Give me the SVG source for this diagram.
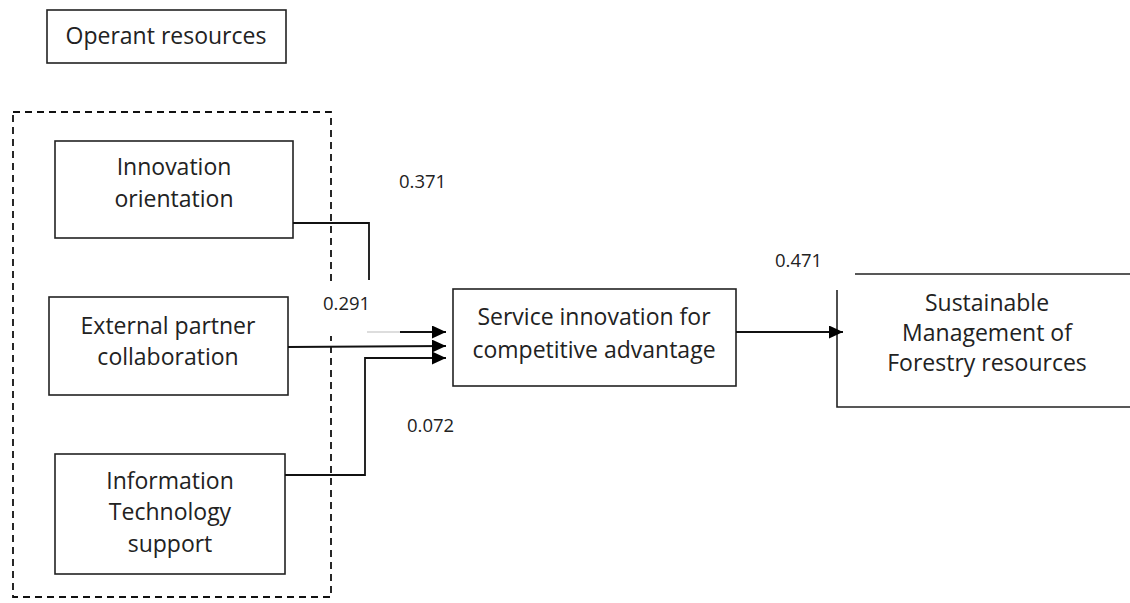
<svg xmlns="http://www.w3.org/2000/svg" width="1130" height="603" viewBox="0 0 1130 603">
<defs>
<style>
.box{fill:#fff;stroke:#222;stroke-width:1.6}
.t{font-family:"Open Sans","Liberation Sans",sans-serif;font-size:23px;fill:#222;text-anchor:middle}
.n{font-family:"Open Sans","Liberation Sans",sans-serif;font-size:18.5px;fill:#222}
.ln{fill:none;stroke:#111;stroke-width:1.8}
</style>
<marker id="ah" viewBox="0 0 14 13" refX="14" refY="6.5" markerWidth="14" markerHeight="13" markerUnits="userSpaceOnUse" orient="auto">
<path d="M0,0 L14,6.5 L0,13 Z" fill="#000"/>
</marker>
</defs>
<rect width="1130" height="603" fill="#fff"/>

<g id="operant">
<rect class="box" x="47" y="10" width="239" height="53"/>
<text class="t" x="166" y="44">Operant resources</text>
</g>

<g id="group-boundary">
<rect x="13" y="112" width="318" height="485" fill="none" stroke="#111" stroke-width="1.8" stroke-dasharray="7,5"/>
</g>

<g id="innovation">
<rect class="box" x="55" y="141" width="238" height="97"/>
<text class="t" x="174" y="175">Innovation</text>
<text class="t" x="174" y="207">orientation</text>
</g>

<g id="external">
<rect class="box" x="49" y="297" width="239" height="98"/>
<text class="t" x="168" y="334">External partner</text>
<text class="t" x="168" y="365">collaboration</text>
</g>

<g id="it">
<rect class="box" x="55" y="454" width="230" height="120"/>
<text class="t" x="170" y="489">Information</text>
<text class="t" x="170" y="520">Technology</text>
<text class="t" x="170" y="552">support</text>
</g>

<g id="service">
<rect class="box" x="453" y="289" width="283" height="97"/>
<text class="t" x="594" y="325">Service innovation for</text>
<text class="t" x="594" y="358">competitive advantage</text>
</g>

<g id="sustainable">
<path d="M855,274 H1130 M837,290 V407 H1130" fill="none" stroke="#222" stroke-width="1.6"/>
<text class="t" x="987" y="311">Sustainable</text>
<text class="t" x="987" y="341">Management of</text>
<text class="t" x="987" y="371">Forestry resources</text>
</g>

<g id="labels">
<rect x="318" y="284" width="48" height="52" fill="#fff"/>
<text class="n" x="399" y="188">0.371</text>
<text class="n" x="323" y="310">0.291</text>
<text class="n" x="407" y="432">0.072</text>
<text class="n" x="775" y="267">0.471</text>
</g>

<g id="connectors">
<path class="ln" d="M293,223 H369 V280"/>
<line x1="367" y1="332" x2="400" y2="332" stroke="#bbb" stroke-width="1.2"/>
<path class="ln" d="M400,332 H446" marker-end="url(#ah)"/>
<path class="ln" d="M288,347 L446,346" marker-end="url(#ah)"/>
<path class="ln" d="M285,475 H365 V358 H446" marker-end="url(#ah)"/>
<path class="ln" d="M736,332 H843" marker-end="url(#ah)"/>
</g>
</svg>
